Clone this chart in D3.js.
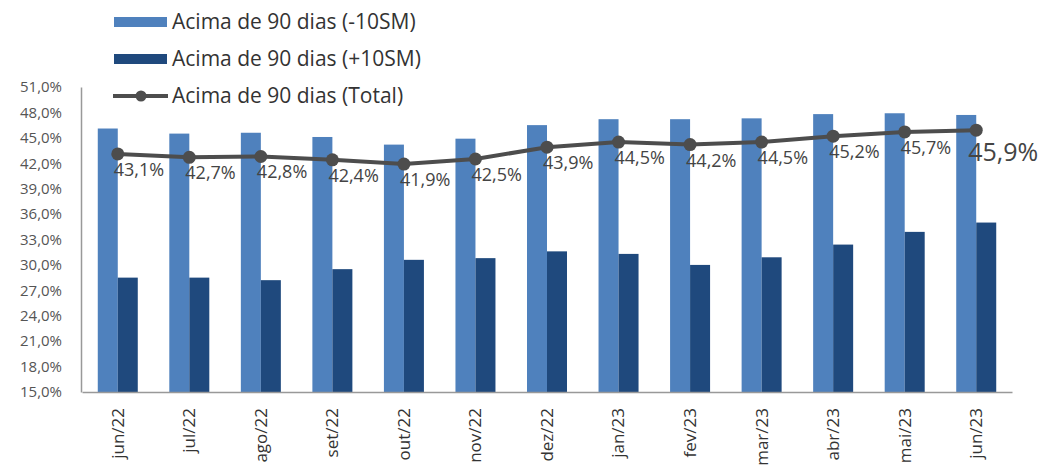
<!DOCTYPE html>
<html>
<head>
<meta charset="utf-8">
<script src="https://cdn.jsdelivr.net/npm/d3@7"></script>
<style>
  body { margin: 0; background: #fff; }
  svg text { font-family: "Open Sans", sans-serif; }
</style>
</head>
<body>
<svg id="chart" width="1049" height="468"></svg>
<script>
// data
var months = ["jun/22", "jul/22", "ago/22", "set/22", "out/22", "nov/22", "dez/22",
    "jan/23", "fev/23", "mar/23", "abr/23", "mai/23", "jun/23"];
var below10 = [46.1, 45.5, 45.6, 45.1, 44.2, 44.9, 46.5, 47.2, 47.2, 47.3, 47.8, 47.9, 47.7];
var above10 = [28.5, 28.5, 28.2, 29.5, 30.6, 30.8, 31.6, 31.3, 30.0, 30.9, 32.4, 33.9, 35.0];
var total = [43.1, 42.7, 42.8, 42.4, 41.9, 42.5, 43.9, 44.5, 44.2, 44.5, 45.2, 45.7, 45.9];
var yTicks = [15, 18, 21, 24, 27, 30, 33, 36, 39, 42, 45, 48, 51];
var seriesNames = ["Acima de 90 dias (-10SM)", "Acima de 90 dias (+10SM)", "Acima de 90 dias (Total)"];

var colLight = "#4f81bd", colDark = "#1f497d", colLine = "#4d4d4d";

var svg = d3.select("#chart");

var x = d3.scaleBand()
    .domain(months)
    .range([82, 1012])
    .padding(0);

var y = d3.scaleLinear()
    .domain([15, 51])
    .range([392, 87]);

var fmt = function (v) { return d3.format(".1f")(v).replace(".", ",") + "%"; };
var barW = 20;

// y axis
var yAxis = d3.axisLeft(y)
    .tickValues(yTicks)
    .tickSize(0)
    .tickPadding(19)
    .tickFormat(fmt);

var gy = svg.append("g")
    .attr("transform", "translate(81,0)")
    .call(yAxis);
gy.select(".domain").attr("stroke", "#999").attr("stroke-width", 1.5);
gy.selectAll("text").attr("fill", "#555").style("font-size", "15px");

// bars
svg.selectAll("rect.light")
    .data(months)
    .enter()
    .append("rect")
    .attr("class", "light")
    .attr("x", function (d) { return x(d) + x.bandwidth() / 2 - barW; })
    .attr("y", function (d, i) { return y(below10[i]); })
    .attr("width", barW)
    .attr("height", function (d, i) { return y(15) - y(below10[i]); })
    .attr("fill", colLight);

svg.selectAll("rect.dark")
    .data(months)
    .enter()
    .append("rect")
    .attr("class", "dark")
    .attr("x", function (d) { return x(d) + x.bandwidth() / 2; })
    .attr("y", function (d, i) { return y(above10[i]); })
    .attr("width", barW)
    .attr("height", function (d, i) { return y(15) - y(above10[i]); })
    .attr("fill", colDark);

// x axis
var xAxis = d3.axisBottom(x).tickSize(0).tickPadding(0);
var gx = svg.append("g")
    .attr("transform", "translate(0,392)")
    .call(xAxis);
gx.select(".domain").attr("stroke", "#999").attr("stroke-width", 1.5);
gx.selectAll("text")
    .attr("transform", "translate(0,16) rotate(-90)")
    .attr("dy", "0.35em")
    .attr("x", 0)
    .attr("y", 0)
    .style("text-anchor", "end")
    .style("font-size", "17px")
    .attr("fill", "#333");

// total line
var line = d3.line()
    .x(function (d, i) { return x(months[i]) + x.bandwidth() / 2; })
    .y(function (d) { return y(d); });

svg.append("path")
    .datum(total)
    .attr("d", line)
    .attr("fill", "none")
    .attr("stroke", colLine)
    .attr("stroke-width", 4);

svg.selectAll("circle.pt")
    .data(total)
    .enter()
    .append("circle")
    .attr("class", "pt")
    .attr("cx", function (d, i) { return x(months[i]) + x.bandwidth() / 2; })
    .attr("cy", function (d) { return y(d); })
    .attr("r", 6.5)
    .attr("fill", colLine);

svg.selectAll("text.lbl")
    .data(total)
    .enter()
    .append("text")
    .attr("class", "lbl")
    .attr("x", function (d, i) { return x(months[i]) + x.bandwidth() / 2 + (i == total.length - 1 ? -8 : -4); })
    .attr("y", function (d, i) { return y(d) + (i == total.length - 1 ? 31 : 22); })
    .attr("fill", "#444")
    .style("font-size", function (d, i) { return i == total.length - 1 ? "25px" : "18px"; })
    .text(fmt);

// legend
var legend = svg.append("g");
var legY = [22, 59, 96];
legend.append("rect").attr("x", 114).attr("y", legY[0] - 5).attr("width", 53).attr("height", 10).attr("fill", colLight);
legend.append("rect").attr("x", 114).attr("y", legY[1] - 5).attr("width", 53).attr("height", 10).attr("fill", colDark);
legend.append("line").attr("x1", 113).attr("x2", 168).attr("y1", legY[2]).attr("y2", legY[2])
    .attr("stroke", colLine).attr("stroke-width", 4);
legend.append("circle").attr("cx", 141).attr("cy", legY[2]).attr("r", 5.5).attr("fill", colLine);
legend.selectAll("text")
    .data(seriesNames)
    .enter()
    .append("text")
    .attr("x", 172)
    .attr("y", function (d, i) { return legY[i]; })
    .attr("dy", "0.35em")
    .attr("fill", "#333")
    .style("font-size", "21px")
    .text(function (d) { return d; });
</script>
</body>
</html>
